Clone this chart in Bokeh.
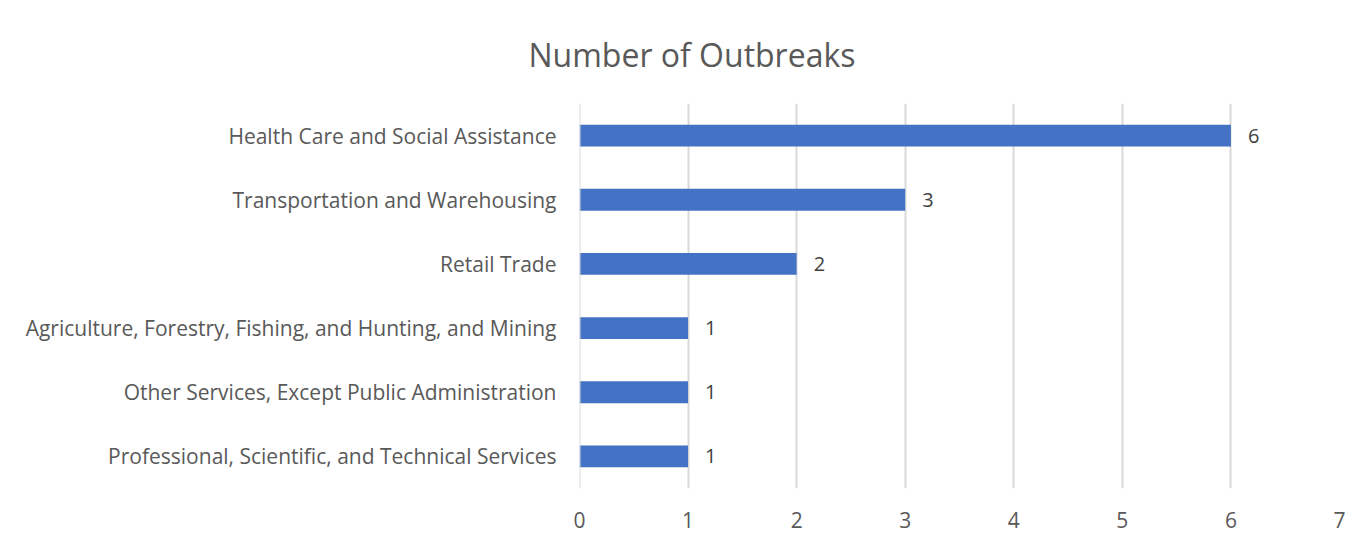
from bokeh.plotting import figure
from bokeh.models import ColumnDataSource, FactorRange, Range1d, FixedTicker, LabelSet, Span
from bokeh.embed import file_html
from bokeh.resources import INLINE
from bokeh.core.properties import value

categories = [
    "Health Care and Social Assistance",
    "Transportation and Warehousing",
    "Retail Trade",
    "Agriculture, Forestry, Fishing, and Hunting, and Mining",
    "Other Services, Except Public Administration",
    "Professional, Scientific, and Technical Services",
]
outbreaks = [6, 3, 2, 1, 1, 1]
x_ticks = [0, 1, 2, 3, 4, 5, 6, 7]
title_text = "Number of Outbreaks"

FONT = "Open Sans"

src = ColumnDataSource(dict(cat=categories, val=outbreaks, lab=[str(v) for v in outbreaks]))

p = figure(
    width=1372, height=544,
    y_range=FactorRange(factors=list(reversed(categories)), range_padding=0),
    x_range=Range1d(0, 7),
    output_backend="svg", toolbar_location=None,
    min_border_left=579, min_border_right=33, min_border_top=103, min_border_bottom=56,
    frame_width=760, frame_height=385,
    title=title_text,
)
p.title.align = "left"
p.title.offset = -51
p.title.standoff = 56
p.title.text_font_size = "32px"
p.title.text_font_style = "normal"
p.title.text_color = "#595959"
p.title.text_font = FONT

p.add_layout(Span(location=0, dimension="height", line_color="#d9d9d9", line_width=2))

p.hbar(y="cat", right="val", height=0.34, left=0, source=src, color="#4472C4", line_color=None)

labels = LabelSet(x="val", y="cat", text="lab", source=src, x_offset=17, y_offset=0,
                  text_baseline="middle", text_font_size="20px", text_color="#404040",
                  text_font=value(FONT))
p.add_layout(labels)

p.outline_line_color = None
p.background_fill_color = "white"
p.border_fill_color = "white"

p.xaxis.ticker = FixedTicker(ticks=x_ticks)
p.xaxis.axis_line_color = None
p.xaxis.major_tick_line_color = None
p.xaxis.minor_tick_line_color = None
p.xaxis.major_label_text_font_size = "21px"
p.xaxis.major_label_text_color = "#595959"
p.xaxis.major_label_text_font = FONT
p.xaxis.major_label_standoff = 17

p.yaxis.axis_line_color = None
p.yaxis.major_tick_line_color = None
p.yaxis.major_label_text_font_size = "21px"
p.yaxis.major_label_text_color = "#595959"
p.yaxis.major_label_text_font = FONT
p.yaxis.major_label_standoff = 17

p.ygrid.grid_line_color = None
p.xgrid.grid_line_color = "#d9d9d9"
p.xgrid.grid_line_width = 2

open("out.html", "w").write(file_html(p, INLINE))
